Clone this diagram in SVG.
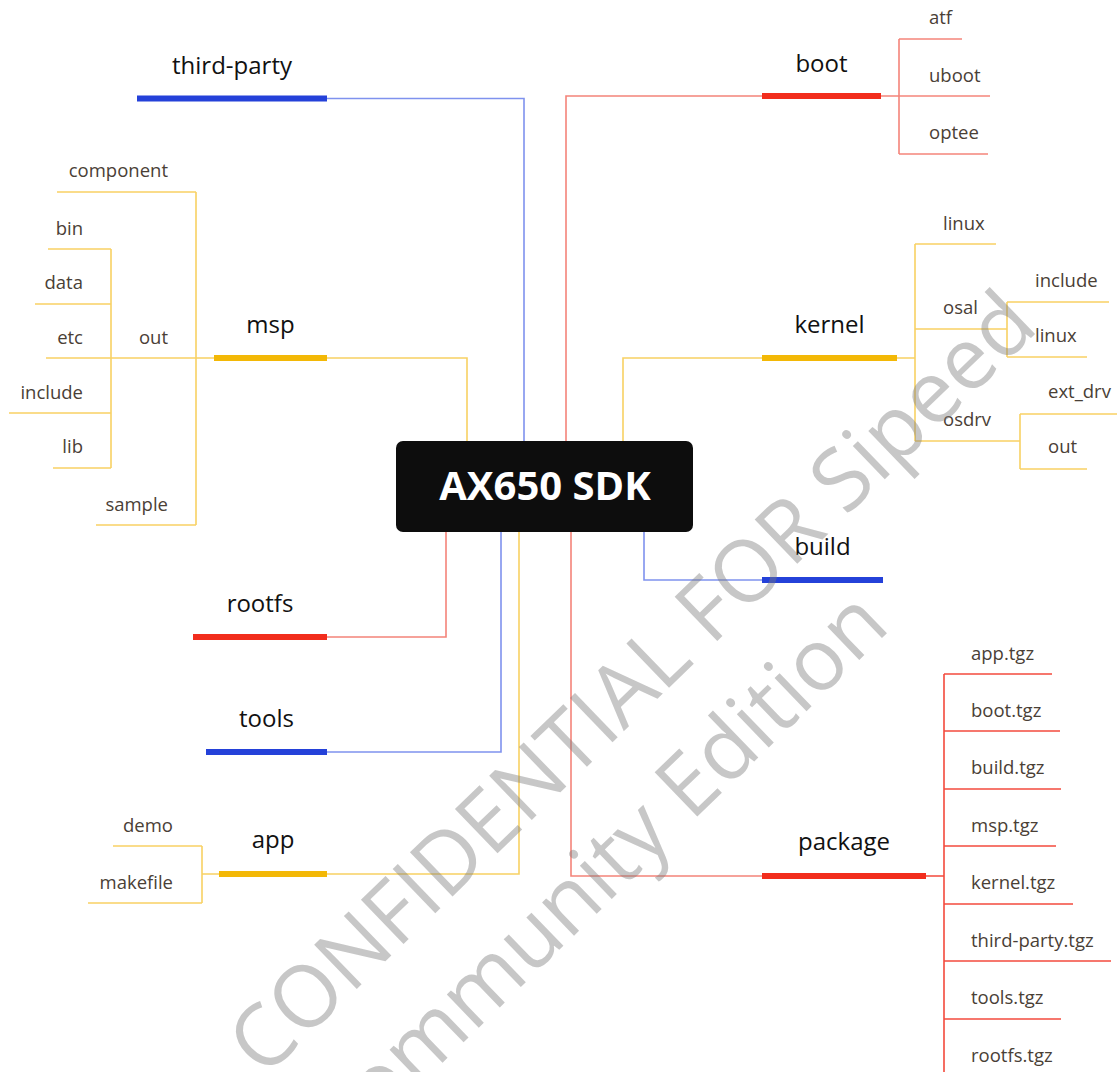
<svg xmlns="http://www.w3.org/2000/svg" width="1117" height="1072" viewBox="0 0 1117 1072">
<style>
.bar{fill:none;stroke-width:6;stroke-linecap:butt}
.c{fill:none;stroke-width:1.6;stroke-linejoin:miter}
.cb{stroke:#7f92ee}
.cr{stroke:#f4847a}
.cy{stroke:#f8d163}
.cp{stroke:#f34a3c}
.bb{stroke:#2441d9}
.br{stroke:#f22d1d}
.by{stroke:#f3b806}
.lbl{font-family:"Open Sans","Liberation Sans",sans-serif;font-size:24px;font-weight:500;fill:#111111;text-anchor:middle}
.sub{font-family:"Open Sans","Liberation Sans",sans-serif;font-size:18.5px;fill:#4a4036}
.e{text-anchor:end}
.wm{font-family:"Open Sans","Liberation Sans",sans-serif;font-size:86px;fill:#7a7a7a;fill-opacity:0.42}
</style>

<g id="connectors">
  <path class="c cb" d="M524,441 V98.5 H327"/>
  <path class="c cy" d="M467,441 V358 H327"/>
  <path class="c cr" d="M566,441 V96 H762"/>
  <path class="c cy" d="M623,441 V358 H762"/>
  <path class="c cb" d="M644,532 V580 H762"/>
  <path class="c cr" d="M571,532 V876 H762"/>
  <path class="c cr" d="M446,532 V637 H327"/>
  <path class="c cb" d="M501,532 V752 H327"/>
  <path class="c cy" d="M519,532 V874 H327"/>
  <path class="c cy" d="M214,358 H196 M196,192 V525"/>
  <path class="c cy" d="M111,249 V468"/>
  <path class="c cy" d="M219,874 H202 M202,846 V903"/>
  <path class="c cr" d="M881,96 H899 M899,39 V154"/>
  <path class="c cy" d="M897,358 H915 M915,244 V441"/>
  <path class="c cy" d="M1007,302 V357"/>
  <path class="c cy" d="M1020,414 V469"/>
  <path class="c cp" d="M926,876 H944 M944,674 V1080"/>
</g>

<g id="root">
  <rect x="396" y="441" width="297" height="91" rx="7" fill="#0d0d0d"/>
  <text x="545" y="500" font-family="'Open Sans','Liberation Sans',sans-serif" font-size="40" font-weight="700" fill="#ffffff" text-anchor="middle">AX650 SDK</text>
</g>

<g id="third-party"><path class="bar bb" d="M137,98.5 H327"/><text class="lbl" x="232" y="74">third-party</text></g>
<g id="msp"><path class="bar by" d="M214,358 H327"/><text class="lbl" x="270.5" y="333">msp</text></g>
<g id="rootfs"><path class="bar br" d="M193,637 H327"/><text class="lbl" x="260" y="612">rootfs</text></g>
<g id="tools"><path class="bar bb" d="M206,752 H327"/><text class="lbl" x="266.5" y="727">tools</text></g>
<g id="app"><path class="bar by" d="M219,874 H327"/><text class="lbl" x="273" y="848">app</text></g>
<g id="boot"><path class="bar br" d="M762,96 H881"/><text class="lbl" x="821.5" y="72">boot</text></g>
<g id="kernel"><path class="bar by" d="M762,358 H897"/><text class="lbl" x="829.5" y="333">kernel</text></g>
<g id="build"><path class="bar bb" d="M762,580 H883"/><text class="lbl" x="822.5" y="555">build</text></g>
<g id="package"><path class="bar br" d="M762,876 H926"/><text class="lbl" x="844" y="850">package</text></g>

<g id="msp-component"><path class="c cy" d="M57,192 H196"/><text class="sub e" x="168" y="177">component</text></g>
<g id="msp-out"><path class="c cy" d="M111,358 H196"/><text class="sub e" x="168" y="344">out</text></g>
<g id="msp-sample"><path class="c cy" d="M96,525 H196"/><text class="sub e" x="168" y="511">sample</text></g>
<g id="out-bin"><path class="c cy" d="M48,249 H111"/><text class="sub e" x="83" y="235">bin</text></g>
<g id="out-data"><path class="c cy" d="M35,304 H111"/><text class="sub e" x="83" y="289">data</text></g>
<g id="out-etc"><path class="c cy" d="M46,358 H111"/><text class="sub e" x="83" y="344">etc</text></g>
<g id="out-include"><path class="c cy" d="M9,413 H111"/><text class="sub e" x="83" y="399">include</text></g>
<g id="out-lib"><path class="c cy" d="M53,468 H111"/><text class="sub e" x="83" y="453">lib</text></g>

<g id="app-demo"><path class="c cy" d="M113,846 H202"/><text class="sub e" x="173" y="832">demo</text></g>
<g id="app-makefile"><path class="c cy" d="M88,903 H202"/><text class="sub e" x="173" y="889">makefile</text></g>

<g id="boot-atf"><path class="c cr" d="M899,39 H962"/><text class="sub" x="929" y="24">atf</text></g>
<g id="boot-uboot"><path class="c cr" d="M899,96 H990"/><text class="sub" x="929" y="82">uboot</text></g>
<g id="boot-optee"><path class="c cr" d="M899,154 H988"/><text class="sub" x="929" y="139">optee</text></g>

<g id="kernel-linux"><path class="c cy" d="M915,244 H996"/><text class="sub" x="943" y="230">linux</text></g>
<g id="kernel-osal"><path class="c cy" d="M915,329 H1007"/><text class="sub" x="943" y="314">osal</text></g>
<g id="kernel-osdrv"><path class="c cy" d="M915,441 H1020"/><text class="sub" x="943" y="426">osdrv</text></g>
<g id="osal-include"><path class="c cy" d="M1007,302 H1109"/><text class="sub" x="1035" y="287">include</text></g>
<g id="osal-linux"><path class="c cy" d="M1007,357 H1087"/><text class="sub" x="1035" y="342">linux</text></g>
<g id="osdrv-ext_drv"><path class="c cy" d="M1020,414 H1117"/><text class="sub" x="1048" y="398">ext_drv</text></g>
<g id="osdrv-out"><path class="c cy" d="M1020,469 H1087"/><text class="sub" x="1048" y="453">out</text></g>

<g id="pkg-app"><path class="c cp" d="M944,674 H1052"/><text class="sub" x="971" y="660">app.tgz</text></g>
<g id="pkg-boot"><path class="c cp" d="M944,731 H1060"/><text class="sub" x="971" y="717">boot.tgz</text></g>
<g id="pkg-build"><path class="c cp" d="M944,789 H1061"/><text class="sub" x="971" y="774">build.tgz</text></g>
<g id="pkg-msp"><path class="c cp" d="M944,846 H1056"/><text class="sub" x="971" y="832">msp.tgz</text></g>
<g id="pkg-kernel"><path class="c cp" d="M944,904 H1073"/><text class="sub" x="971" y="889">kernel.tgz</text></g>
<g id="pkg-third-party"><path class="c cp" d="M944,961 H1111"/><text class="sub" x="971" y="947">third-party.tgz</text></g>
<g id="pkg-tools"><path class="c cp" d="M944,1019 H1061"/><text class="sub" x="971" y="1004">tools.tgz</text></g>
<g id="pkg-rootfs"><path class="c cp" d="M944,1076 H1062"/><text class="sub" x="971" y="1062">rootfs.tgz</text></g>

<g id="watermark">
  <text class="wm" text-anchor="middle" transform="translate(652,704) rotate(-44)">CONFIDENTIAL FOR Sipeed</text>
  <text class="wm" text-anchor="middle" transform="translate(616,895) rotate(-44)">Community Edition</text>
</g>
</svg>
